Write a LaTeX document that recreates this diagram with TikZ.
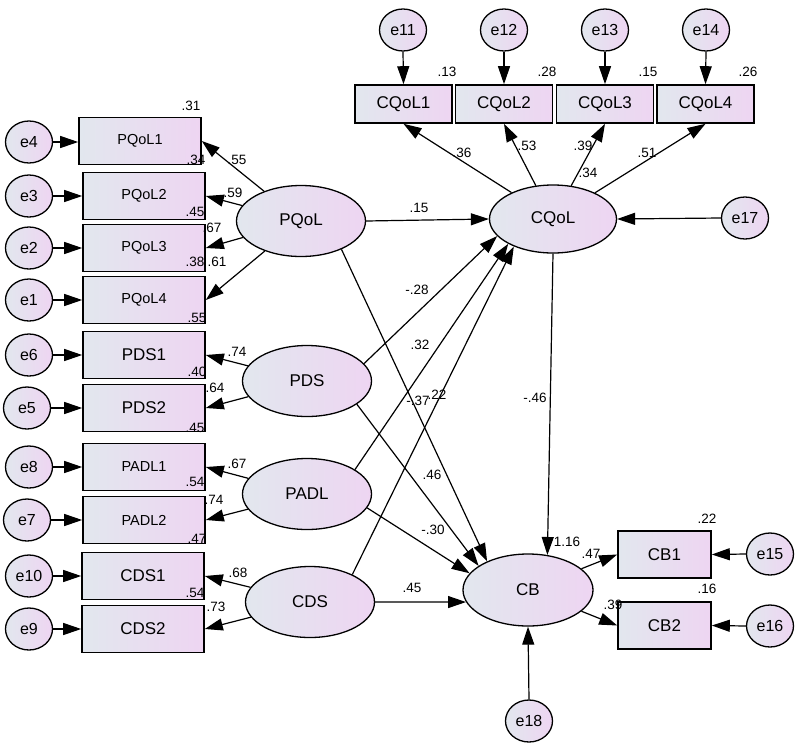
\documentclass[tikz,border=0pt]{standalone}
\usepackage{fontspec}
\setmainfont{Liberation Sans}
\usetikzlibrary{shapes.geometric,arrows.meta}
\definecolor{gL}{RGB}{226,231,238}
\definecolor{gR}{RGB}{238,213,242}
\begin{document}
\begin{tikzpicture}[x=1pt,y=-1pt,
  shadeLR/.style={left color=gL, right color=gR},
  obs/.style={draw, rectangle, shadeLR, line width=1.6pt, minimum width=122pt, minimum height=47pt, inner sep=0pt, font=\fontsize{17}{18}\selectfont},
  obssm/.style={obs, font=\fontsize{14.5}{16}\selectfont},
  obstop/.style={obs, minimum width=97pt, minimum height=38pt},
  obscb/.style={obs, minimum width=93pt, minimum height=47pt},
  lat/.style={draw, ellipse, shadeLR, line width=1.3pt, minimum width=129pt, minimum height=71pt, inner sep=0pt, font=\fontsize{17}{18}\selectfont},
  err/.style={draw, ellipse, shadeLR, line width=1.3pt, minimum width=47pt, minimum height=42pt, inner sep=0pt, font=\fontsize{16}{17}\selectfont},
  conn/.style={line width=1.2pt, -{Triangle[length=18pt,width=12pt]}},
  lab/.style={inner sep=0pt, font=\fontsize{13.5}{14}\selectfont}
]
\useasboundingbox (0,0) rectangle (800,750);

% left observed
\node[obssm] (PQoL1) at (140,141) {PQoL1};
\node[obssm] (PQoL2) at (144,196) {PQoL2};
\node[obssm] (PQoL3) at (144,248) {PQoL3};
\node[obssm] (PQoL4) at (144,300) {PQoL4};
\node[obs] (PDS1) at (144,355) {PDS1};
\node[obs] (PDS2) at (144,408) {PDS2};
\node[obssm] (PADL1) at (144,467) {PADL1};
\node[obssm] (PADL2) at (144,520) {PADL2};
\node[obs] (CDS1) at (143,576) {CDS1};
\node[obs] (CDS2) at (143,629) {CDS2};

% left errors
\node[err] (e4) at (29,142) {e4};
\node[err] (e3) at (29,196) {e3};
\node[err] (e2) at (29,248) {e2};
\node[err] (e1) at (29,300) {e1};
\node[err] (e6) at (29,355) {e6};
\node[err] (e5) at (27,408) {e5};
\node[err] (e8) at (29,467) {e8};
\node[err] (e7) at (27,520) {e7};
\node[err] (e10) at (29,576) {e10};
\node[err] (e9) at (29,629) {e9};

% latents
\node[lat] (PQoL) at (301,221) {PQoL};
\node[lat] (PDS) at (307,381) {PDS};
\node[lat] (PADL) at (307,494) {PADL};
\node[lat] (CDS) at (310,602) {CDS};
\node[lat, minimum width=127pt, minimum height=68pt] (CQoL) at (553,219) {CQoL};
\node[lat, minimum width=130pt, minimum height=72pt] (CB) at (528,590) {CB};

% top observed
\node[obstop] (CQoL1) at (403.5,104) {CQoL1};
\node[obstop] (CQoL2) at (504,104) {CQoL2};
\node[obstop] (CQoL3) at (605,104) {CQoL3};
\node[obstop] (CQoL4) at (705.5,104) {CQoL4};
\node[err] (e11) at (403,30) {e11};
\node[err] (e12) at (504,30) {e12};
\node[err] (e13) at (605,30) {e13};
\node[err] (e14) at (706,30) {e14};

% right
\node[err] (e17) at (745,218) {e17};
\node[obscb] (CB1) at (664.5,554.5) {CB1};
\node[obscb] (CB2) at (664.5,625.5) {CB2};
\node[err] (e15) at (770,554) {e15};
\node[err] (e16) at (770,626) {e16};
\node[err] (e18) at (529,721) {e18};

% error arrows left
\foreach \e/\b in {e4/PQoL1,e3/PQoL2,e2/PQoL3,e1/PQoL4,e6/PDS1,e5/PDS2,e8/PADL1,e7/PADL2,e10/CDS1,e9/CDS2}
  \draw[conn] (\e.east) -- (\e.east -| \b.west);
% loadings left
\foreach \l/\b in {PQoL/PQoL1,PQoL/PQoL2,PQoL/PQoL3,PQoL/PQoL4,PDS/PDS1,PDS/PDS2,PADL/PADL1,PADL/PADL2,CDS/CDS1,CDS/CDS2}
  \draw[conn] (\l) -- (\b.east);
% top
\foreach \e/\b in {e11/CQoL1,e12/CQoL2,e13/CQoL3,e14/CQoL4}
  \draw[conn] (\e.south) -- (\b.north);
\foreach \b in {CQoL1,CQoL2,CQoL3,CQoL4}
  \draw[conn] (CQoL) -- (\b.south);
\draw[conn] (e17.west) -- (CQoL.east);
% right
\draw[conn] (CB) -- (CB1.west);
\draw[conn] (CB) -- (CB2.west);
\draw[conn] (e15.west) -- (CB1.east);
\draw[conn] (e16.west) -- (CB2.east);
\draw[conn] (e18.north) -- (CB.south);

% structural paths
\draw[conn] (PQoL.east) -- (CQoL.west);
\draw[conn] (PQoL.325) -- (CB.145);
\draw[conn] (PDS.17) -- (CQoL.197);
\draw[conn] (PDS.335) -- (CB.154);
\draw[conn] (PADL.27) -- (CQoL.209);
\draw[conn] (PADL.347) -- (CB.164);
\draw[conn] (CDS.33) -- (CQoL.215);
\draw[conn] (CDS.east) -- (CB.191);
\draw[conn] (CQoL.south) -- (CB.61);

% R2 labels left
\node[lab] (r1) at (191,106) {.31};
\node[lab] (r2) at (196,160) {.34};
\node[lab] (r3) at (195,212) {.45};
\node[lab] (r4) at (195,262) {.38};
\node[lab] (r5) at (197,318) {.55};
\node[lab] (r6) at (197,372) {.40};
\node[lab] (r7) at (195,428) {.45};
\node[lab] (r8) at (195,482) {.54};
\node[lab] (r9) at (197,539) {.47};
\node[lab] (r10) at (195,593) {.54};
% loadings left
\node[lab] (w1) at (237,160) {.55};
\node[lab] (w2) at (233,193) {.59};
\node[lab] (w3) at (212,228) {.67};
\node[lab] (w4) at (217,262) {.61};
\node[lab] (w5) at (237,352) {.74};
\node[lab] (w6) at (215,388) {.64};
\node[lab] (w7) at (237,464) {.67};
\node[lab] (w8) at (214,500) {.74};
\node[lab] (w9) at (238,573) {.68};
\node[lab] (w10) at (216,607) {.73};
% top
\node[lab] (r11) at (447,72) {.13};
\node[lab] (r12) at (547,72) {.28};
\node[lab] (r13) at (648,72) {.15};
\node[lab] (r14) at (748,72) {.26};
\node[lab] (w11) at (462,153) {.36};
\node[lab] (w12) at (527,146) {.53};
\node[lab] (w13) at (583,146) {.39};
\node[lab] (r17) at (588,173) {.34};
\node[lab] (w14) at (647,153) {.51};
% paths
\node[lab] (p1) at (419,208) {.15};
\node[lab] (p2) at (417,290) {-.28};
\node[lab] (p3) at (420,345) {.32};
\node[lab] (p4) at (418,401) {-.37};
\node[lab] (p5) at (437,395) {.22};
\node[lab] (p6) at (535,398) {-.46};
\node[lab] (p7) at (432,475) {.46};
\node[lab] (p8) at (433,530) {-.30};
\node[lab] (p9) at (412,588) {.45};
\node[lab] (r18) at (567,542) {1.16};
\node[lab] (w15) at (591,554) {.47};
\node[lab] (w16) at (613,605) {.39};
\node[lab] (r15) at (707,519) {.22};
\node[lab] (r16) at (707,589) {.16};
\end{tikzpicture}
\end{document}
